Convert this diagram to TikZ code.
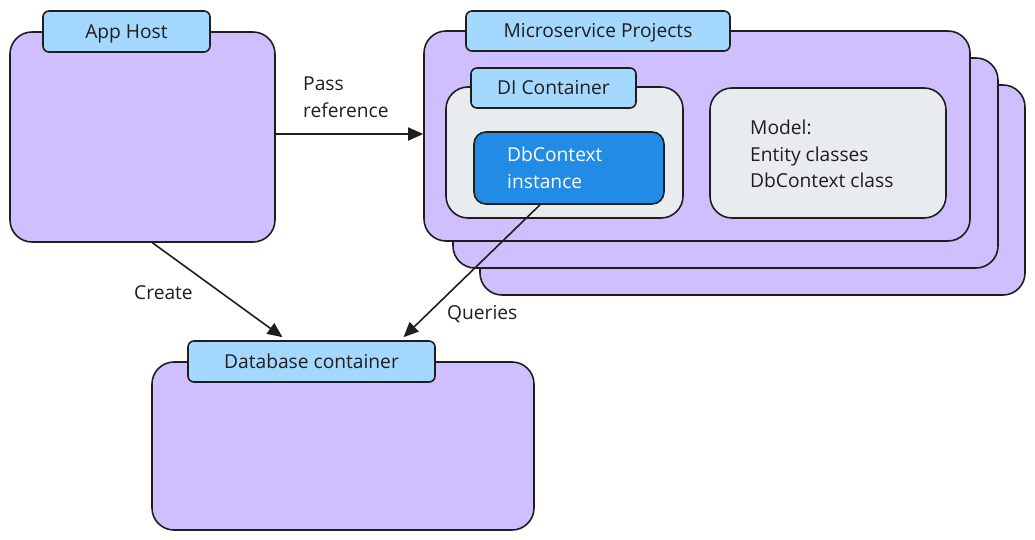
\documentclass[tikz,border=0pt]{standalone}
\usepackage{fontspec}
\setmainfont{Open Sans}
\usetikzlibrary{arrows.meta}

\definecolor{boxpurple}{HTML}{D0BFFF}
\definecolor{tabblue}{HTML}{A5D8FF}
\definecolor{boxgray}{HTML}{E9ECEF}
\definecolor{ctxblue}{HTML}{228BE6}
\definecolor{ink}{HTML}{1E1E1E}

\begin{document}
\begin{tikzpicture}[x=1pt,y=-1pt,
    every node/.style={font=\fontsize{19.2}{26.7}\selectfont,text=ink},
    group/.style={draw=ink,line width=1.6pt,fill=boxpurple,rounded corners=22pt,inner sep=0pt},
    tab/.style={draw=ink,line width=1.6pt,fill=tabblue,rounded corners=6pt,inner sep=0pt,
                text height=15pt,text depth=1pt},
    inner/.style={draw=ink,line width=1.6pt,fill=boxgray,rounded corners=22pt,inner sep=0pt},
    link/.style={draw=ink,line width=1.6pt,-{Triangle[length=15pt,width=13pt]}},
    lbl/.style={align=left,inner sep=0pt,anchor=west}]
  \useasboundingbox (0,0) rectangle (1035,540);

  % app host
  \node[group,minimum width=265pt,minimum height=210pt] (apphost) at (142.5,137) {};
  \node[tab,minimum width=167pt,minimum height=41pt] (apptab) at (126.5,31.5) {App Host};

  % microservice projects, stacked
  \node[group,minimum width=545pt,minimum height=210pt] (ms3) at (752.5,190) {};
  \node[group,minimum width=545pt,minimum height=210pt] (ms2) at (725.5,163) {};
  \node[group,minimum width=546pt,minimum height=210pt] (ms1) at (697,136) {};
  \node[tab,minimum width=264pt,minimum height=40pt] (mstab) at (598,31) {Microservice Projects};

  \node[inner,minimum width=237pt,minimum height=131pt] (di) at (564.5,152.5) {};
  \node[tab,minimum width=165pt,minimum height=40pt] (ditab) at (553.5,88) {DI Container};
  \node[draw=ink,line width=1.6pt,fill=ctxblue,rounded corners=12pt,inner sep=0pt,
        minimum width=190pt,minimum height=72pt] (dbctx) at (569,168) {};
  \node[lbl,text=white] (dbctxtxt) at (507,168) {DbContext\\instance};

  \node[inner,minimum width=236pt,minimum height=130pt] (model) at (828,153) {};
  \node[lbl] (modeltxt) at (750,154) {Model:\\Entity classes\\DbContext class};

  % database
  \node[group,minimum width=382pt,minimum height=168pt] (db) at (343,446) {};
  \node[tab,minimum width=247pt,minimum height=41pt] (dbtab) at (311.5,361.5) {Database container};

  % connectors
  \draw[link] ([yshift=3pt]apphost.east) -- ([yshift=2pt]ms1.west);
  \draw[link] ([xshift=10pt]apphost.south) -- ([xshift=-29pt,yshift=3pt]dbtab.north);
  \draw[link] ([xshift=-29pt]dbctx.south) -- ([xshift=92pt,yshift=3pt]dbtab.north);
  \node[lbl] (passlbl) at (303,97.5) {Pass\\reference};
  \node[lbl] (createlbl) at (134,293) {Create};
  \node[lbl] (querylbl) at (447,314) {Queries};
\end{tikzpicture}
\end{document}
